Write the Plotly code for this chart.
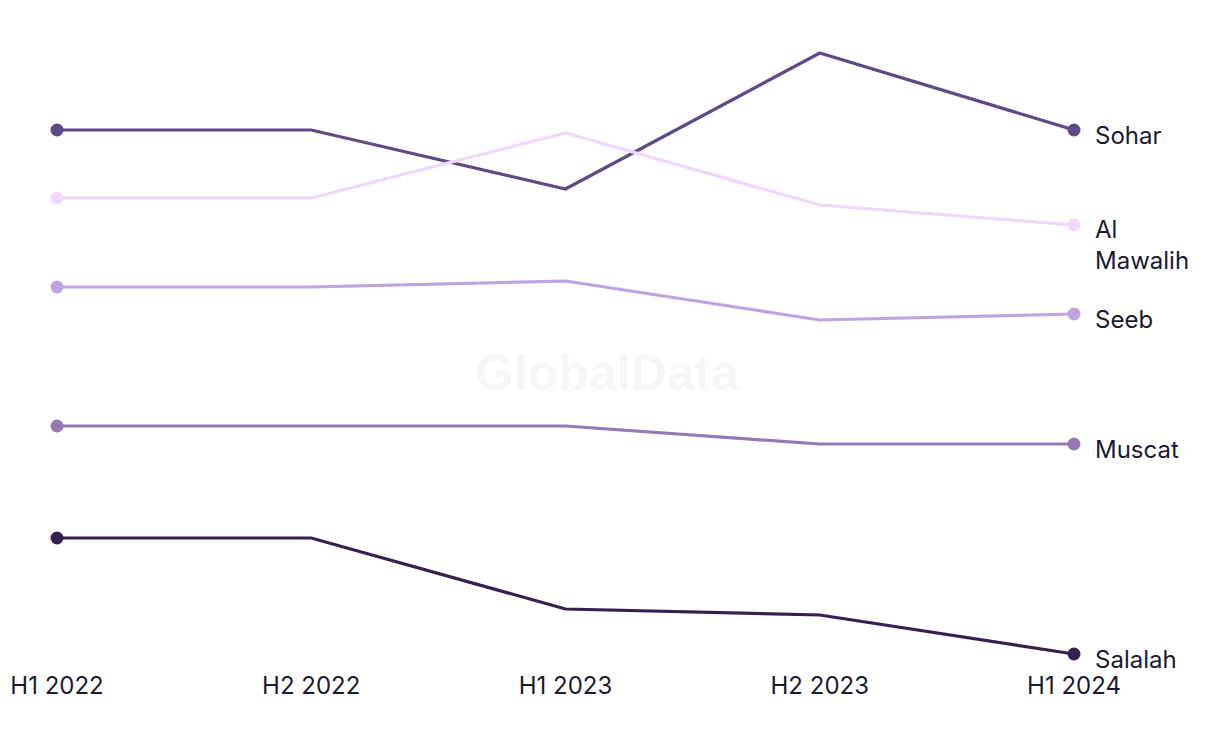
import plotly.graph_objects as go

periods = ["H1 2022", "H2 2022", "H1 2023", "H2 2023", "H1 2024"]

# relative values (y axis hidden in original)
sohar = [530, 530, 471, 607, 530]
al_mawalih = [462, 462, 527, 455, 435]
seeb = [373, 373, 379, 340, 346]
muscat = [234, 234, 234, 216, 216]
salalah = [122, 122, 51, 45, 6]

series = [
    ("Sohar", sohar, "#5e4a86"),
    ("Al<br>Mawalih", al_mawalih, "#f0d8fc"),
    ("Seeb", seeb, "#bfa4e4"),
    ("Muscat", muscat, "#9479b6"),
    ("Salalah", salalah, "#35214f"),
]

FONT = "Inter, Liberation Sans, Arial"
TEXT = "#1b1a2e"

fig = go.Figure()
x = list(range(len(periods)))

for name, vals, color in series:
    fig.add_trace(go.Scatter(
        x=x,
        y=vals,
        mode="lines",
        line=dict(color=color, width=3.2),
        cliponaxis=False,
        showlegend=False,
    ))
    # dots only on the first and last period
    fig.add_trace(go.Scatter(
        x=[x[0], x[-1]],
        y=[vals[0], vals[-1]],
        mode="markers",
        marker=dict(size=13, color=color, opacity=1),
        cliponaxis=False,
        showlegend=False,
    ))
    lines = name.count("<br>") + 1
    fig.add_annotation(
        x=x[-1], y=vals[-1],
        text=name,
        showarrow=False,
        xanchor="left",
        yanchor="middle",
        align="left",
        xshift=19,
        yshift=-5 - 15 * (lines - 1),
        font=dict(family=FONT, size=24, color=TEXT),
    )

# faint watermark
fig.add_annotation(
    x=0.541, y=0.463, xref="paper", yref="paper",
    text="<b>GlobalData</b>",
    showarrow=False,
    font=dict(family="Liberation Sans, Arial", size=50, color="#f6f6f6"),
)

fig.update_layout(
    width=1212,
    height=736,
    plot_bgcolor="white",
    paper_bgcolor="white",
    margin=dict(l=49, r=146, t=32, b=84),
    xaxis=dict(
        range=[0, 4],
        tickvals=x,
        ticktext=periods,
        showgrid=False,
        zeroline=False,
        showline=False,
        ticks="",
        automargin=False,
        ticklabelstandoff=9,
        tickfont=dict(family=FONT, size=24, color=TEXT),
    ),
    yaxis=dict(
        range=[0, 620],
        visible=False,
    ),
)

fig.write_html("out.html")
